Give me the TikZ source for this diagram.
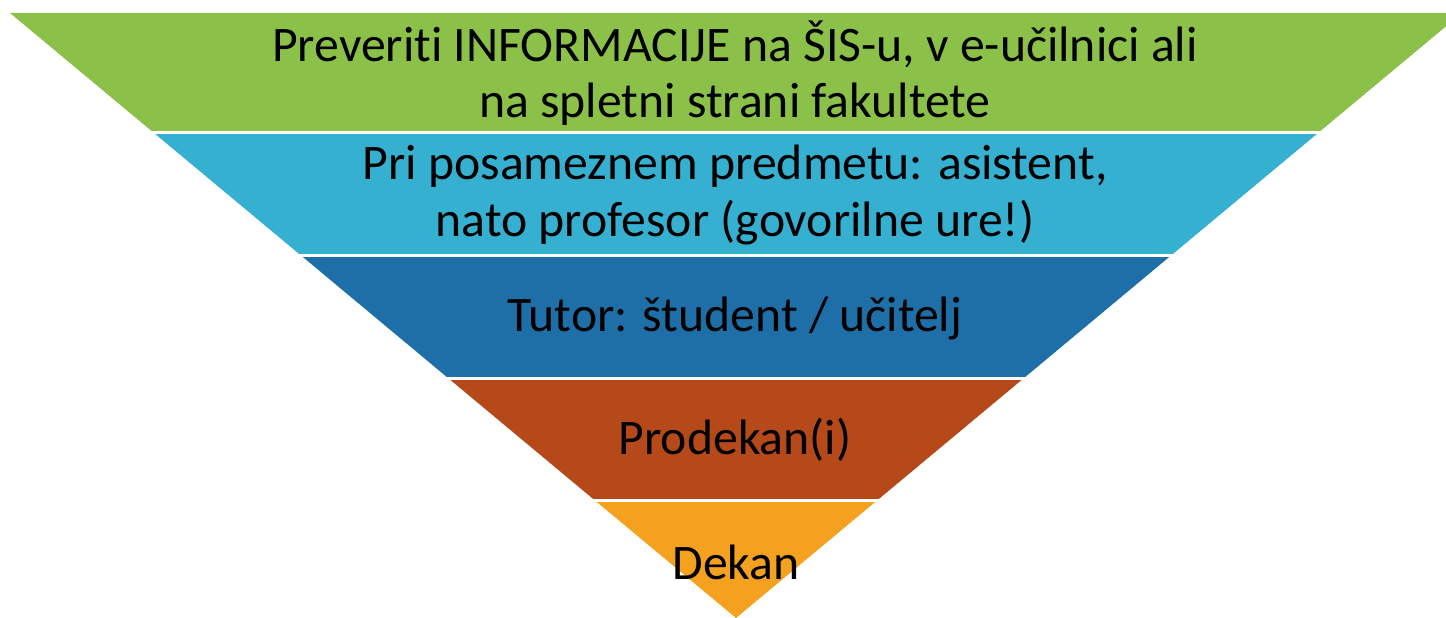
\documentclass[tikz,border=0pt]{standalone}
\usepackage{fontspec}
\setmainfont{Carlito}[Ligatures=NoCommon]
\definecolor{lvlgreen}{RGB}{139,193,72}
\definecolor{lvlcyan}{RGB}{54,176,209}
\definecolor{lvlblue}{RGB}{30,111,168}
\definecolor{lvlbrown}{RGB}{182,73,26}
\definecolor{lvlorange}{RGB}{243,161,30}
\tikzset{lvltext/.style={align=center, font=\fontsize{28.3}{32}\selectfont, text=black}}
\begin{document}
\begin{tikzpicture}[x=0.02cm, y=-0.02cm]
\newcommand\Band[2]{(0,#1) rectangle (1446,#2)}
\useasboundingbox (0,0) rectangle (1446,618);
\begin{scope}
\clip (10,13) -- (1462,13) -- (736,618) -- cycle;
\fill[lvlgreen] \Band{0}{133};
\fill[lvlcyan] \Band{133}{255};
\fill[lvlblue] \Band{255}{378};
\fill[lvlbrown] \Band{378}{500};
\fill[lvlorange] \Band{500}{620};
\end{scope}
\foreach \y in {133,255,378,500}
  \draw[white, line width=3*0.02cm] (0,\y) -- (1446,\y);
\node[lvltext] (info) at (735,73) {Preveriti INFORMACIJE na ŠIS-u, v e-učilnici ali\\na spletni strani fakultete};
\node[lvltext] (predmet) at (735,195) {Pri posameznem predmetu: asistent,\\nato profesor (govorilne ure!)};
\node[lvltext] (tutor) at (735,318) {Tutor: študent / učitelj};
\node[lvltext] (prodekan) at (735,440) {Prodekan(i)};
\node[lvltext] (dekan) at (736,562) {Dekan};
\end{tikzpicture}
\end{document}
